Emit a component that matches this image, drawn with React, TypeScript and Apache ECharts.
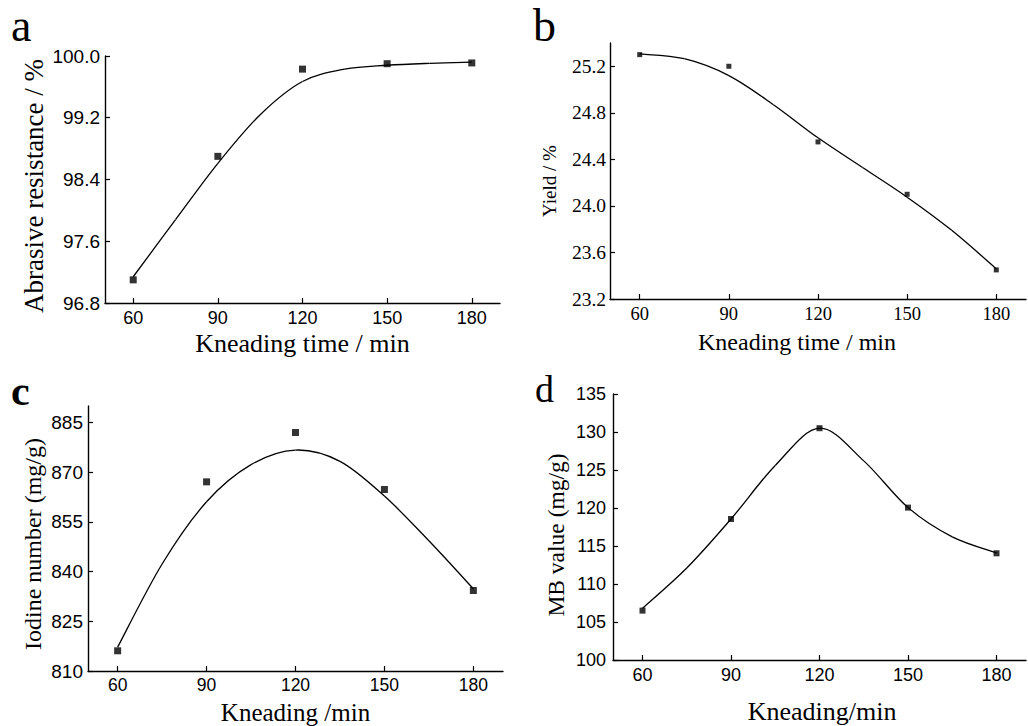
import React, { useEffect, useRef } from "react";
import * as echarts from "echarts";

const kneadingTimes = [60, 90, 120, 150, 180];
const fitTimes = [60, 75, 90, 105, 120, 135, 150, 165, 180];

const abrasiveResistance = [97.1, 98.7, 99.83, 99.9, 99.91];
const abrasiveFit = [97.14, 97.88, 98.61, 99.24, 99.67, 99.83, 99.88, 99.905, 99.92];
const abrasiveTicks = [96.8, 97.6, 98.4, 99.2, 100.0];

const yieldValues = [25.3, 25.2, 24.55, 24.1, 23.45];
const yieldFit = [25.306, 25.265, 25.12, 24.87, 24.585, 24.33, 24.075, 23.79, 23.46];
const yieldTicks = [23.2, 23.6, 24.0, 24.4, 24.8, 25.2];

const iodineNumber = [816.1, 867.1, 882.0, 864.8, 834.3];
const iodineFit = [817.2, 842.3, 861.1, 872.3, 876.7, 873.3, 862.8, 849.3, 834.8];
const iodineTicks = [810, 825, 840, 855, 870, 885];

const mbValue = [106.5, 118.55, 130.5, 120.05, 114.04];
const mbFit = [106.8, 112.1, 118.55, 125.6, 130.5, 126.2, 120.05, 116.2, 114.1];
const mbTicks = [100, 105, 110, 115, 120, 125, 130, 135];

const xTicks = [60, 90, 120, 150, 180];

const SERIF = "Liberation Serif";
const SANS = "Liberation Sans";

const pairs = (xs: number[], ys: number[]) => xs.map((x, i) => [x, ys[i]]);

function xAxis(gridIndex: number, o: any) {
  return {
    type: "value",
    gridIndex,
    min: 50,
    max: 190,
    name: o.name,
    nameLocation: "middle",
    nameGap: o.nameGap,
    nameTextStyle: {
      fontFamily: SERIF,
      fontSize: o.nameSize,
      color: "#000",
      padding: o.namePadding || 0,
    },
    axisLine: { show: true, lineStyle: { color: "#000", width: 1.4 } },
    axisTick: {
      show: true,
      inside: true,
      length: 5,
      customValues: xTicks,
      lineStyle: { color: "#000", width: 1.2 },
    },
    axisLabel: {
      show: true,
      customValues: xTicks,
      margin: o.labelMargin,
      fontFamily: o.labelFont,
      fontSize: o.labelSize,
      color: "#000",
    },
    splitLine: { show: false },
  };
}

function yAxis(gridIndex: number, o: any) {
  return {
    type: "value",
    gridIndex,
    min: o.min,
    max: o.max,
    name: o.name,
    nameLocation: "middle",
    nameGap: o.nameGap,
    nameTextStyle: {
      fontFamily: SERIF,
      fontSize: o.nameSize,
      color: "#000",
      padding: o.namePadding || 0,
    },
    axisLine: { show: true, lineStyle: { color: "#000", width: 1.4 } },
    axisTick: {
      show: true,
      inside: true,
      length: 5,
      customValues: o.ticks,
      lineStyle: { color: "#000", width: 1.2 },
    },
    axisLabel: {
      show: true,
      customValues: o.ticks,
      margin: o.labelMargin,
      fontFamily: o.labelFont,
      fontSize: o.labelSize,
      color: "#000",
      formatter: (v: number) => (o.decimals ? v.toFixed(o.decimals) : String(Math.round(v))),
    },
    splitLine: { show: false },
  };
}

// Fitted curve drawn as a Catmull-Rom spline through the read curve values,
// positioned through the axes' own scales (api.coord).
function fitSeries(i: number, ys: number[]) {
  const data = pairs(fitTimes, ys);
  return {
    type: "custom",
    xAxisIndex: i,
    yAxisIndex: i,
    data,
    encode: { x: 0, y: 1 },
    clip: false,
    silent: true,
    z: 2,
    renderItem: (params: any, api: any) => {
      if (params.dataIndex !== 0) return null;
      const pts = data.map((d) => api.coord(d));
      const n = pts.length;
      const children: any[] = [];
      for (let k = 0; k < n - 1; k++) {
        const p0 = pts[Math.max(k - 1, 0)];
        const p1 = pts[k];
        const p2 = pts[k + 1];
        const p3 = pts[Math.min(k + 2, n - 1)];
        children.push({
          type: "bezierCurve",
          shape: {
            x1: p1[0],
            y1: p1[1],
            x2: p2[0],
            y2: p2[1],
            cpx1: p1[0] + (p2[0] - p0[0]) / 6,
            cpy1: p1[1] + (p2[1] - p0[1]) / 6,
            cpx2: p2[0] - (p3[0] - p1[0]) / 6,
            cpy2: p2[1] - (p3[1] - p1[1]) / 6,
          },
          style: { stroke: "#000", lineWidth: 1.3, fill: "none" },
        });
      }
      return { type: "group", children };
    },
  };
}

function pointSeries(i: number, ys: number[], size: number) {
  return {
    type: "scatter",
    xAxisIndex: i,
    yAxisIndex: i,
    data: pairs(kneadingTimes, ys),
    symbol: "rect",
    symbolSize: size,
    itemStyle: { color: "#000" },
    z: 3,
  };
}

export default function App() {
  const ref = useRef<HTMLDivElement>(null);
  useEffect(() => {
    document.body.style.margin = "0";
    if (!ref.current) return;
    const chart = echarts.init(ref.current, undefined, { renderer: "svg" });
    chart.setOption({
      animation: false,
      backgroundColor: "#fff",
      grid: [
        { left: 105, top: 56, width: 395, height: 247 },
        { left: 610, top: 43, width: 416, height: 256 },
        { left: 88, top: 406, width: 415, height: 265 },
        { left: 613, top: 394, width: 413, height: 266 },
      ],
      xAxis: [
        xAxis(0, { name: "Kneading time / min", nameGap: 27, nameSize: 26, labelFont: SANS, labelSize: 18, labelMargin: 6 }),
        xAxis(1, { name: "Kneading time / min", nameGap: 31, nameSize: 24, namePadding: [0, 42, 0, 0], labelFont: SERIF, labelSize: 18.5, labelMargin: 5 }),
        xAxis(2, { name: "Kneading /min", nameGap: 29, nameSize: 25, labelFont: SANS, labelSize: 17.5, labelMargin: 5 }),
        xAxis(3, { name: "Kneading/min", nameGap: 38, nameSize: 26, namePadding: [0, 0, 0, 5], labelFont: SANS, labelSize: 18, labelMargin: 6 }),
      ],
      yAxis: [
        yAxis(0, { min: 96.8, max: 100, ticks: abrasiveTicks, decimals: 1, name: "Abrasive resistance / %", nameGap: 58, nameSize: 27, namePadding: [0, 13, 0, 0], labelFont: SANS, labelSize: 19, labelMargin: 5 }),
        yAxis(1, { min: 23.2, max: 25.4, ticks: yieldTicks, decimals: 1, name: "Yield / %", nameGap: 51, nameSize: 19, namePadding: [0, 20, 0, 0], labelFont: SERIF, labelSize: 19.5, labelMargin: 4 }),
        yAxis(2, { min: 810, max: 890, ticks: iodineTicks, decimals: 0, name: "Iodine number (mg/g)", nameGap: 43, nameSize: 24, namePadding: [0, 11, 0, 0], labelFont: SANS, labelSize: 19, labelMargin: 5 }),
        yAxis(3, { min: 100, max: 135, ticks: mbTicks, decimals: 0, name: "MB value (mg/g)", nameGap: 45, nameSize: 23.5, namePadding: [0, 16, 0, 0], labelFont: SANS, labelSize: 18, labelMargin: 7 }),
      ],
      series: [
        fitSeries(0, abrasiveFit),
        pointSeries(0, abrasiveResistance, 7),
        fitSeries(1, yieldFit),
        pointSeries(1, yieldValues, 5),
        fitSeries(2, iodineFit),
        pointSeries(2, iodineNumber, 7),
        fitSeries(3, mbFit),
        pointSeries(3, mbValue, 6),
      ],
      graphic: [
        { type: "text", left: 11, top: 2, style: { text: "a", font: `46px '${SERIF}'`, fill: "#000" } },
        { type: "text", left: 533, top: 2, style: { text: "b", font: `46px '${SERIF}'`, fill: "#000" } },
        { type: "text", left: 11, top: 370, style: { text: "c", font: `bold 42px '${SERIF}'`, fill: "#000" } },
        { type: "text", left: 535, top: 370, style: { text: "d", font: `38px '${SERIF}'`, fill: "#000" } },
      ],
    });
    return () => chart.dispose();
  }, []);
  return <div ref={ref} style={{ width: 1028, height: 726 }} />;
}
